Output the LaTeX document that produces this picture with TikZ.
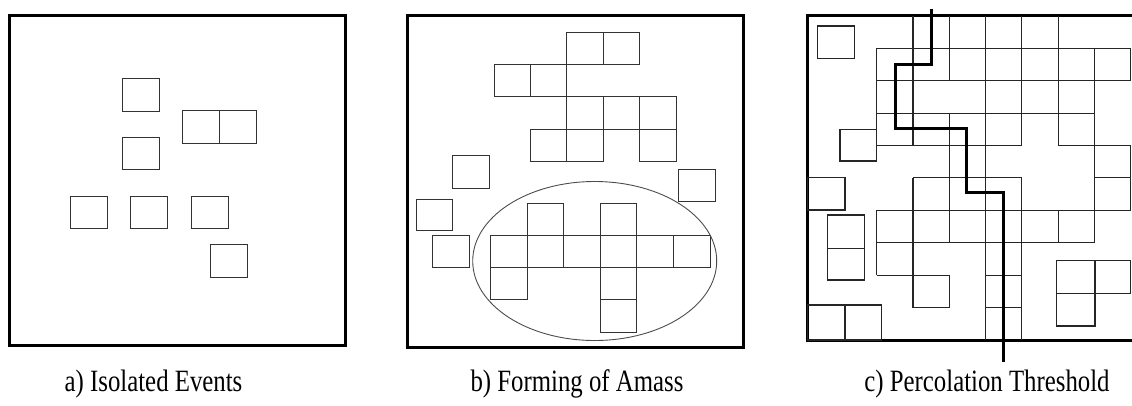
\documentclass[tikz,border=0pt]{standalone}
\usepackage{fontspec}
\setmainfont{Liberation Serif}
\newcommand{\narrowtext}[1]{\scalebox{0.8}[1]{#1}}
\begin{document}
\begin{tikzpicture}[x=1pt,y=-1pt,
  frame/.style={line width=3pt, line cap=rect},
  cell/.style={line width=1pt, draw=black!80},
  gridline/.style={line width=1.1pt, draw=black!85},
  percpath/.style={line width=3pt},
  oval/.style={line width=0.9pt, draw=black!70},
  lbl/.style={font=\fontsize{31}{36}\selectfont, anchor=base, inner sep=0pt}]
\useasboundingbox (0,0) rectangle (1132,405);

% ---------- panel a ----------
\draw[frame] (9,15) rectangle (345,345);
\foreach \xa/\ya/\xb/\yb in {122/78/159/111, 182/110/219/143, 219/110/256/143,
  122/137/159/169, 70/196/107/228, 130/196/167/228, 191/196/228/228, 210/244/247/277}
  \draw[cell] (\xa,\ya) rectangle (\xb,\yb);

% ---------- panel b ----------
\draw[frame] (407,15) rectangle (743,347);
% upper cluster
\foreach \xa/\ya/\xb/\yb in {566.7/32.3/603.3/64, 603.3/32.3/639.3/64,
  494/64/530/96.7, 530/64/566.7/96.7,
  566.7/96.7/603.3/129, 603.3/96.7/639.3/129, 639.3/96.7/676/129,
  530/129/566.7/161, 566.7/129/603.3/161, 639.3/129/676/161}
  \draw[cell] (\xa,\ya) rectangle (\xb,\yb);
% isolated cells
\foreach \xa/\ya/\xb/\yb in {452.7/155.7/489.3/188.3, 416.7/199/452.7/230,
  432.7/235.7/469.3/267.7, 678.3/169.3/715/201.7}
  \draw[cell] (\xa,\ya) rectangle (\xb,\yb);
% cluster inside the ellipse
\foreach \xa/\ya/\xb/\yb in {527.3/203.3/563.3/235.7, 600.7/203.3/636.7/235.7,
  490.7/235.7/527.3/267.3, 527.3/235.7/563.3/267.3, 563.3/235.7/600.7/267.3,
  600.7/235.7/636.7/267.3, 636.7/235.7/673.3/267.3, 673.3/235.7/710/267.3,
  490.7/267.3/527.3/299.3, 600.7/267.3/636.7/299.3, 600.7/299.3/636.7/332.3}
  \draw[cell] (\xa,\ya) rectangle (\xb,\yb);
\draw[oval] (594.7,261) ellipse [x radius=122, y radius=79.5];

% ---------- panel c ----------
\draw[frame] (1132,15.7) -- (807.3,15.7) -- (807.3,340) -- (1132,340);
\begin{scope}[shift={(876.7,48.3)}, x=36.3pt, y=-32.4pt]
  % vertical segments
  \foreach \i/\ja/\jb in {0/0/3, 0/5/7, 1/-1/3, 1/4/8, 2/-1/1, 2/2/6, 2/7/8,
    3/-1/9, 4/-1/3, 4/4/9, 5/-1/3, 5/5/6, 6/0/6, 7/0/1, 7/3/5}
    \draw[gridline] (\i,\ja) -- (\i,\jb);
  % horizontal segments
  \foreach \j/\ia/\ib in {0/0/7, 1/0/7, 2/0/6, 3/0/4, 3/5/7, 4/1/4, 4/6/7,
    5/0/7, 6/0/6, 7/0/2, 7/3/4, 8/1/2, 8/3/4}
    \draw[gridline] (\ia,\j) -- (\ib,\j);
\end{scope}
% isolated cells on the left and bottom right
\foreach \xa/\ya/\xb/\yb in {817.3/26/854.3/58.3, 840/129.3/876.7/161,
  807.3/177.3/845/210, 827.7/215/864.3/248.3, 827.7/248.3/864.3/280,
  807.3/305/845/340, 845/305/881.7/340,
  1056.7/260.7/1095/293.3, 1095/260.7/1130.5/293.3, 1056.7/293.3/1095/326}
  \draw[gridline] (\xa,\ya) rectangle (\xb,\yb);
% percolation path
\coordinate (ptop) at (931.5,8.5);
\coordinate (pbot) at (1003,362);
\draw[percpath] (ptop) |- (895,64) |- (966.7,128.3) |- (1003,192.7) -- (pbot);

% ---------- labels ----------
\node[lbl] (la) at (153.5,391) {\narrowtext{a) Isolated Events}};
\node[lbl] (lb) at (577,391) {\narrowtext{b) Forming of Amass}};
\node[lbl] (lc) at (987,391) {\narrowtext{c) Percolation Threshold}};
\end{tikzpicture}
\end{document}
